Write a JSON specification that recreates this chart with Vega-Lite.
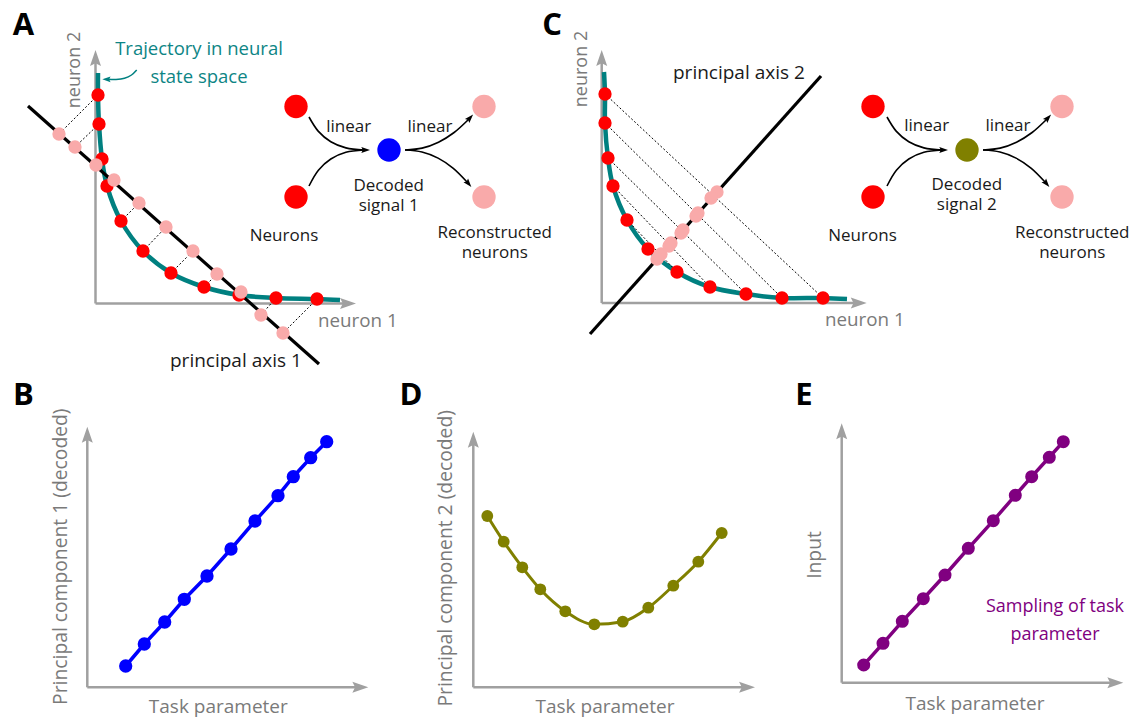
{
  "$schema": "https://vega.github.io/schema/vega-lite/v6.json",
  "width": 1136,
  "height": 720,
  "autosize": {"type": "fit", "contains": "padding"},
  "padding": 0,
  "background": "white",
  "config": {"view": {"stroke": null}, "font": "Open Sans"},
  "datasets": {
    "axes": [
      {"panel": "A", "x": 95.5, "y": 303.5, "x2": 345, "y2": 303.5},
      {"panel": "A", "x": 95.5, "y": 303.5, "x2": 95.5, "y2": 61},
      {"panel": "C", "x": 601.7, "y": 303, "x2": 855.7, "y2": 303},
      {"panel": "C", "x": 601.7, "y": 303, "x2": 601.7, "y2": 61},
      {"panel": "B", "x": 87.3, "y": 687.3, "x2": 357.3, "y2": 687.3},
      {"panel": "B", "x": 87.3, "y": 687.3, "x2": 87.3, "y2": 437.7},
      {"panel": "D", "x": 473.3, "y": 687.3, "x2": 744, "y2": 687.3},
      {"panel": "D", "x": 473.3, "y": 687.3, "x2": 473.3, "y2": 442.7},
      {"panel": "E", "x": 841.7, "y": 682.7, "x2": 1112.3, "y2": 682.7},
      {"panel": "E", "x": 841.7, "y": 682.7, "x2": 841.7, "y2": 434.3}
    ],
    "axisHeads": [
      {"panel": "A", "dir": "up", "x": 95.5, "y": 61},
      {"panel": "C", "dir": "up", "x": 601.7, "y": 61},
      {"panel": "B", "dir": "up", "x": 87.3, "y": 437.7},
      {"panel": "D", "dir": "up", "x": 473.3, "y": 442.7},
      {"panel": "E", "dir": "up", "x": 841.7, "y": 434.3},
      {"panel": "A", "dir": "right", "x": 345, "y": 303.5},
      {"panel": "C", "dir": "right", "x": 855.7, "y": 303},
      {"panel": "B", "dir": "right", "x": 357.3, "y": 687.3},
      {"panel": "D", "dir": "right", "x": 744, "y": 687.3},
      {"panel": "E", "dir": "right", "x": 1112.3, "y": 682.7}
    ],
    "trajectory": [
      {"curve": "A", "i": 0, "x": 98, "y": 73},
      {"curve": "A", "i": 1, "x": 98, "y": 95},
      {"curve": "A", "i": 2, "x": 99, "y": 124},
      {"curve": "A", "i": 3, "x": 102, "y": 159},
      {"curve": "A", "i": 4, "x": 107, "y": 186},
      {"curve": "A", "i": 5, "x": 121, "y": 221},
      {"curve": "A", "i": 6, "x": 143, "y": 251},
      {"curve": "A", "i": 7, "x": 171, "y": 273},
      {"curve": "A", "i": 8, "x": 204, "y": 287},
      {"curve": "A", "i": 9, "x": 239, "y": 295},
      {"curve": "A", "i": 10, "x": 276, "y": 298},
      {"curve": "A", "i": 11, "x": 317, "y": 299},
      {"curve": "A", "i": 12, "x": 340, "y": 300},
      {"curve": "C", "i": 0, "x": 604, "y": 72},
      {"curve": "C", "i": 1, "x": 605, "y": 94},
      {"curve": "C", "i": 2, "x": 605, "y": 123},
      {"curve": "C", "i": 3, "x": 608, "y": 158},
      {"curve": "C", "i": 4, "x": 613, "y": 186},
      {"curve": "C", "i": 5, "x": 627, "y": 220},
      {"curve": "C", "i": 6, "x": 648, "y": 249},
      {"curve": "C", "i": 7, "x": 677, "y": 272},
      {"curve": "C", "i": 8, "x": 710, "y": 287},
      {"curve": "C", "i": 9, "x": 746, "y": 294},
      {"curve": "C", "i": 10, "x": 782, "y": 298},
      {"curve": "C", "i": 11, "x": 823, "y": 298},
      {"curve": "C", "i": 12, "x": 847, "y": 299}
    ],
    "samples": [
      {"panel": "A", "x": 98, "y": 95}, {"panel": "A", "x": 99, "y": 124}, {"panel": "A", "x": 102, "y": 159},
      {"panel": "A", "x": 107, "y": 186}, {"panel": "A", "x": 121, "y": 221}, {"panel": "A", "x": 143, "y": 251},
      {"panel": "A", "x": 171, "y": 273}, {"panel": "A", "x": 204, "y": 287}, {"panel": "A", "x": 239, "y": 295},
      {"panel": "A", "x": 276, "y": 298}, {"panel": "A", "x": 317, "y": 299},
      {"panel": "C", "x": 605, "y": 94}, {"panel": "C", "x": 605, "y": 123}, {"panel": "C", "x": 608, "y": 158},
      {"panel": "C", "x": 613, "y": 186}, {"panel": "C", "x": 627, "y": 220}, {"panel": "C", "x": 648, "y": 249},
      {"panel": "C", "x": 677, "y": 272}, {"panel": "C", "x": 710, "y": 287}, {"panel": "C", "x": 746, "y": 294},
      {"panel": "C", "x": 782, "y": 298}, {"panel": "C", "x": 823, "y": 298}
    ],
    "projections": [
      {"panel": "A", "x": 59, "y": 134}, {"panel": "A", "x": 75, "y": 147}, {"panel": "A", "x": 96, "y": 165},
      {"panel": "A", "x": 114, "y": 180}, {"panel": "A", "x": 139, "y": 203}, {"panel": "A", "x": 166, "y": 227},
      {"panel": "A", "x": 193, "y": 251}, {"panel": "A", "x": 217, "y": 274}, {"panel": "A", "x": 241, "y": 292},
      {"panel": "A", "x": 261, "y": 315}, {"panel": "A", "x": 283, "y": 333},
      {"panel": "C", "x": 717, "y": 192}, {"panel": "C", "x": 711, "y": 198}, {"panel": "C", "x": 698, "y": 213},
      {"panel": "C", "x": 696, "y": 216}, {"panel": "C", "x": 683, "y": 230}, {"panel": "C", "x": 681, "y": 233},
      {"panel": "C", "x": 671, "y": 243}, {"panel": "C", "x": 669, "y": 246}, {"panel": "C", "x": 661, "y": 254},
      {"panel": "C", "x": 659, "y": 256}, {"panel": "C", "x": 657, "y": 259}
    ],
    "dotted": [
      {"panel": "A", "x": 98, "y": 95, "x2": 59, "y2": 134},
      {"panel": "A", "x": 99, "y": 124, "x2": 75, "y2": 147},
      {"panel": "A", "x": 102, "y": 159, "x2": 96, "y2": 165},
      {"panel": "A", "x": 107, "y": 186, "x2": 114, "y2": 180},
      {"panel": "A", "x": 121, "y": 221, "x2": 139, "y2": 203},
      {"panel": "A", "x": 143, "y": 251, "x2": 166, "y2": 227},
      {"panel": "A", "x": 171, "y": 273, "x2": 193, "y2": 251},
      {"panel": "A", "x": 204, "y": 287, "x2": 217, "y2": 274},
      {"panel": "A", "x": 239, "y": 295, "x2": 241, "y2": 292},
      {"panel": "A", "x": 276, "y": 298, "x2": 261, "y2": 315},
      {"panel": "A", "x": 317, "y": 299, "x2": 283, "y2": 333},
      {"panel": "C", "x": 605, "y": 94, "x2": 823, "y2": 298},
      {"panel": "C", "x": 605, "y": 123, "x2": 782, "y2": 298},
      {"panel": "C", "x": 608, "y": 158, "x2": 746, "y2": 294},
      {"panel": "C", "x": 613, "y": 186, "x2": 710, "y2": 287},
      {"panel": "C", "x": 627, "y": 220, "x2": 677, "y2": 272}
    ],
    "principalAxes": [
      {"panel": "A", "x": 28, "y": 106, "x2": 319, "y2": 364},
      {"panel": "C", "x": 590, "y": 334, "x2": 821, "y2": 76}
    ],
    "netArrows": [
      {"id": "a1", "i": 0, "x": 309, "y": 117}, {"id": "a1", "i": 1, "x": 318.4, "y": 131.4}, {"id": "a1", "i": 2, "x": 330.8, "y": 141.8}, {"id": "a1", "i": 3, "x": 345.9, "y": 147.9}, {"id": "a1", "i": 4, "x": 364, "y": 150},
      {"id": "a2", "i": 0, "x": 309, "y": 186}, {"id": "a2", "i": 1, "x": 318.4, "y": 170.2}, {"id": "a2", "i": 2, "x": 330.8, "y": 159}, {"id": "a2", "i": 3, "x": 345.9, "y": 152.3}, {"id": "a2", "i": 4, "x": 364, "y": 150},
      {"id": "a3", "i": 0, "x": 405, "y": 150}, {"id": "a3", "i": 1, "x": 422.1, "y": 148.1}, {"id": "a3", "i": 2, "x": 438.5, "y": 142.2}, {"id": "a3", "i": 3, "x": 454.1, "y": 132.5}, {"id": "a3", "i": 4, "x": 469, "y": 119},
      {"id": "a4", "i": 0, "x": 405, "y": 150}, {"id": "a4", "i": 1, "x": 422, "y": 152}, {"id": "a4", "i": 2, "x": 438.1, "y": 158.1}, {"id": "a4", "i": 3, "x": 453.3, "y": 168.3}, {"id": "a4", "i": 4, "x": 467.5, "y": 182.5},
      {"id": "c1", "i": 0, "x": 887, "y": 117}, {"id": "c1", "i": 1, "x": 896.4, "y": 131.4}, {"id": "c1", "i": 2, "x": 908.8, "y": 141.8}, {"id": "c1", "i": 3, "x": 923.9, "y": 147.9}, {"id": "c1", "i": 4, "x": 942, "y": 150},
      {"id": "c2", "i": 0, "x": 887, "y": 186}, {"id": "c2", "i": 1, "x": 896.4, "y": 170.2}, {"id": "c2", "i": 2, "x": 908.8, "y": 159}, {"id": "c2", "i": 3, "x": 923.9, "y": 152.3}, {"id": "c2", "i": 4, "x": 942, "y": 150},
      {"id": "c3", "i": 0, "x": 983, "y": 150}, {"id": "c3", "i": 1, "x": 1000.1, "y": 148.1}, {"id": "c3", "i": 2, "x": 1016.5, "y": 142.2}, {"id": "c3", "i": 3, "x": 1032.1, "y": 132.5}, {"id": "c3", "i": 4, "x": 1047, "y": 119},
      {"id": "c4", "i": 0, "x": 983, "y": 150}, {"id": "c4", "i": 1, "x": 1000, "y": 152}, {"id": "c4", "i": 2, "x": 1016.1, "y": 158.1}, {"id": "c4", "i": 3, "x": 1031.3, "y": 168.3}, {"id": "c4", "i": 4, "x": 1045.5, "y": 182.5}
    ],
    "netHeads": [
      {"id": "a1", "x": 364, "y": 150, "angle": 90},
      {"id": "a3", "x": 469, "y": 119, "angle": 43},
      {"id": "a4", "x": 467.5, "y": 182.5, "angle": 140},
      {"id": "c1", "x": 942, "y": 150, "angle": 90},
      {"id": "c3", "x": 1047, "y": 119, "angle": 43},
      {"id": "c4", "x": 1045.5, "y": 182.5, "angle": 140}
    ],
    "annotArrow": [
      {"i": 0, "x": 136.7, "y": 70}, {"i": 1, "x": 131.5, "y": 75}, {"i": 2, "x": 124.5, "y": 78.3}, {"i": 3, "x": 116, "y": 79.5}, {"i": 4, "x": 108, "y": 79.3}
    ],
    "annotHead": [{"x": 108, "y": 79.3}],
    "nodes": [
      {"panel": "A", "role": "neuron", "x": 296, "y": 106.5},
      {"panel": "A", "role": "neuron", "x": 296, "y": 197},
      {"panel": "A", "role": "decoded 1", "x": 389, "y": 150},
      {"panel": "A", "role": "reconstructed", "x": 484, "y": 106.5},
      {"panel": "A", "role": "reconstructed", "x": 484, "y": 197},
      {"panel": "C", "role": "neuron", "x": 873, "y": 106.5},
      {"panel": "C", "role": "neuron", "x": 873, "y": 197},
      {"panel": "C", "role": "decoded 2", "x": 967, "y": 150},
      {"panel": "C", "role": "reconstructed", "x": 1062, "y": 106.5},
      {"panel": "C", "role": "reconstructed", "x": 1062, "y": 197}
    ],
    "pc1": [
      {"t": 1, "x": 125.7, "y": 666}, {"t": 2, "x": 144.3, "y": 644}, {"t": 3, "x": 164.7, "y": 622}, {"t": 4, "x": 184.3, "y": 599.3},
      {"t": 5, "x": 207, "y": 576}, {"t": 6, "x": 231, "y": 549}, {"t": 7, "x": 255, "y": 521}, {"t": 8, "x": 278, "y": 495.7},
      {"t": 9, "x": 293.3, "y": 476.7}, {"t": 10, "x": 310.7, "y": 457.7}, {"t": 11, "x": 326.7, "y": 441.7}
    ],
    "pc2": [
      {"t": 1, "x": 487.3, "y": 516}, {"t": 2, "x": 503.7, "y": 541.7}, {"t": 3, "x": 522.3, "y": 567.3}, {"t": 4, "x": 540.3, "y": 589.3},
      {"t": 5, "x": 565.3, "y": 611.3}, {"t": 6, "x": 594.3, "y": 624.3}, {"t": 7, "x": 622.7, "y": 621.7}, {"t": 8, "x": 648.3, "y": 607.7},
      {"t": 9, "x": 673.3, "y": 585.7}, {"t": 10, "x": 698.3, "y": 561.7}, {"t": 11, "x": 721.7, "y": 533}
    ],
    "input": [
      {"t": 1, "x": 863.7, "y": 665}, {"t": 2, "x": 883, "y": 643.3}, {"t": 3, "x": 902.3, "y": 621.3}, {"t": 4, "x": 923.3, "y": 598.7},
      {"t": 5, "x": 945, "y": 575}, {"t": 6, "x": 968.3, "y": 548.3}, {"t": 7, "x": 993.3, "y": 520.7}, {"t": 8, "x": 1015.3, "y": 495.3},
      {"t": 9, "x": 1031.7, "y": 476.7}, {"t": 10, "x": 1049.3, "y": 457.3}, {"t": 11, "x": 1063.3, "y": 441.7}
    ],
    "letters": [
      {"label": "A", "x": 23.5, "y": 35}, {"label": "C", "x": 552, "y": 35},
      {"label": "B", "x": 23.3, "y": 405}, {"label": "D", "x": 411, "y": 405}, {"label": "E", "x": 804, "y": 405}
    ],
    "netLabels": [
      {"label": "linear", "x": 348.7, "y": 131.5}, {"label": "linear", "x": 430, "y": 131.5},
      {"label": "Decoded\nsignal 1", "x": 388.7, "y": 190.5},
      {"label": "Neurons", "x": 284, "y": 241}, {"label": "Reconstructed\nneurons", "x": 494.7, "y": 238},
      {"label": "linear", "x": 926.7, "y": 131}, {"label": "linear", "x": 1008, "y": 131},
      {"label": "Decoded\nsignal 2", "x": 966.8, "y": 190},
      {"label": "Neurons", "x": 862.5, "y": 240.5}, {"label": "Reconstructed\nneurons", "x": 1072.2, "y": 237.5}
    ],
    "axisNames": [
      {"label": "principal axis 1", "x": 170, "y": 367},
      {"label": "principal axis 2", "x": 673, "y": 79}
    ],
    "neuronLabels": [
      {"label": "neuron 1", "x": 318, "y": 327}, {"label": "neuron 1", "x": 825, "y": 326}
    ],
    "verticalLabels": [
      {"label": "neuron 2", "x": 80, "y": 70, "size": "small"},
      {"label": "neuron 2", "x": 586.7, "y": 69, "size": "small"},
      {"label": "Principal component 1 (decoded)", "x": 66.5, "y": 556.7, "size": "large"},
      {"label": "Principal component 2 (decoded)", "x": 451.5, "y": 558.3, "size": "large"},
      {"label": "Input", "x": 821.3, "y": 555, "size": "large"}
    ],
    "taskLabels": [
      {"label": "Task parameter", "x": 218.3, "y": 713}, {"label": "Task parameter", "x": 605, "y": 713}, {"label": "Task parameter", "x": 975, "y": 710}
    ],
    "tealLabels": [
      {"label": "Trajectory in neural\nstate space", "x": 199, "y": 54.5}
    ],
    "purpleLabels": [
      {"label": "Sampling of task\nparameter", "x": 1055, "y": 611.7}
    ]
  },
  "encoding": {
    "x": {"field": "x", "type": "quantitative", "scale": {"domain": [0, 1136], "nice": false, "zero": false}, "axis": null},
    "y": {"field": "y", "type": "quantitative", "scale": {"domain": [0, 720], "reverse": true, "nice": false, "zero": false}, "axis": null}
  },
  "layer": [
    {
      "data": {"name": "axes"},
      "mark": {"type": "rule", "color": "#a0a0a0", "strokeWidth": 2.5},
      "encoding": {"x2": {"field": "x2"}, "y2": {"field": "y2"}}
    },
    {
      "data": {"name": "axisHeads"},
      "transform": [{"filter": "datum.dir === 'up'"}],
      "mark": {"type": "point", "shape": "M0,-1L0.5,0.45L0,0.2L-0.5,0.45Z", "filled": true, "size": 484, "color": "#a0a0a0", "opacity": 1, "angle": 0, "strokeWidth": 0}
    },
    {
      "data": {"name": "axisHeads"},
      "transform": [{"filter": "datum.dir === 'right'"}],
      "mark": {"type": "point", "shape": "M0,-1L0.5,0.45L0,0.2L-0.5,0.45Z", "filled": true, "size": 484, "color": "#a0a0a0", "opacity": 1, "angle": 90, "strokeWidth": 0}
    },
    {
      "data": {"name": "trajectory"},
      "mark": {"type": "line", "interpolate": "catmull-rom", "color": "#008080", "strokeWidth": 4.5},
      "encoding": {"detail": {"field": "curve"}, "order": {"field": "i", "type": "quantitative"}}
    },
    {
      "data": {"name": "dotted"},
      "mark": {"type": "rule", "color": "#000000", "strokeWidth": 1, "strokeDash": [2, 2]},
      "encoding": {"x2": {"field": "x2"}, "y2": {"field": "y2"}}
    },
    {
      "data": {"name": "principalAxes"},
      "mark": {"type": "rule", "color": "#000000", "strokeWidth": 3.2},
      "encoding": {"x2": {"field": "x2"}, "y2": {"field": "y2"}}
    },
    {
      "data": {"name": "samples"},
      "mark": {"type": "point", "shape": "circle", "filled": true, "size": 177, "color": "#ff0000", "opacity": 1, "strokeWidth": 0}
    },
    {
      "data": {"name": "projections"},
      "mark": {"type": "point", "shape": "circle", "filled": true, "size": 177, "color": "#f9aaaa", "opacity": 1, "strokeWidth": 0}
    },
    {
      "data": {"name": "netArrows"},
      "mark": {"type": "line", "interpolate": "catmull-rom", "color": "#000000", "strokeWidth": 1.6},
      "encoding": {"detail": {"field": "id"}, "order": {"field": "i", "type": "quantitative"}}
    },
    {
      "data": {"name": "netHeads"},
      "mark": {"type": "point", "shape": "M0,-1L0.5,0.45L0,0.2L-0.5,0.45Z", "filled": true, "size": 144, "color": "#000000", "opacity": 1, "strokeWidth": 0},
      "encoding": {"angle": {"field": "angle", "type": "quantitative", "scale": null}}
    },
    {
      "data": {"name": "annotArrow"},
      "mark": {"type": "line", "interpolate": "catmull-rom", "color": "#008080", "strokeWidth": 1.5},
      "encoding": {"order": {"field": "i", "type": "quantitative"}}
    },
    {
      "data": {"name": "annotHead"},
      "mark": {"type": "point", "shape": "M0,-1L0.5,0.45L0,0.2L-0.5,0.45Z", "filled": true, "size": 130, "color": "#008080", "opacity": 1, "angle": 270, "strokeWidth": 0}
    },
    {
      "data": {"name": "nodes"},
      "mark": {"type": "point", "shape": "circle", "filled": true, "size": 545, "opacity": 1, "strokeWidth": 0},
      "encoding": {
        "color": {"field": "role", "type": "nominal", "legend": null,
          "scale": {"domain": ["neuron", "decoded 1", "decoded 2", "reconstructed"], "range": ["#ff0000", "#0000ff", "#808000", "#f9aaaa"]}}
      }
    },
    {
      "data": {"name": "pc1"},
      "mark": {"type": "line", "color": "#0000ff", "strokeWidth": 3.5},
      "encoding": {"order": {"field": "t", "type": "quantitative"}}
    },
    {
      "data": {"name": "pc1"},
      "mark": {"type": "point", "shape": "circle", "filled": true, "size": 177, "color": "#0000ff", "opacity": 1, "strokeWidth": 0}
    },
    {
      "data": {"name": "pc2"},
      "mark": {"type": "line", "interpolate": "monotone", "color": "#808000", "strokeWidth": 3},
      "encoding": {"order": {"field": "t", "type": "quantitative"}}
    },
    {
      "data": {"name": "pc2"},
      "mark": {"type": "point", "shape": "circle", "filled": true, "size": 140, "color": "#808000", "opacity": 1, "strokeWidth": 0}
    },
    {
      "data": {"name": "input"},
      "mark": {"type": "line", "color": "#800080", "strokeWidth": 3.5},
      "encoding": {"order": {"field": "t", "type": "quantitative"}}
    },
    {
      "data": {"name": "input"},
      "mark": {"type": "point", "shape": "circle", "filled": true, "size": 170, "color": "#800080", "opacity": 1, "strokeWidth": 0}
    },
    {
      "data": {"name": "letters"},
      "mark": {"type": "text", "font": "Open Sans", "fontWeight": "bold", "fontSize": 31, "align": "center", "baseline": "alphabetic", "color": "#000000"},
      "encoding": {"text": {"field": "label"}}
    },
    {
      "data": {"name": "netLabels"},
      "mark": {"type": "text", "font": "Open Sans", "fontSize": 17, "align": "center", "baseline": "alphabetic", "color": "#1a1a1a", "lineBreak": "\n", "lineHeight": 20},
      "encoding": {"text": {"field": "label"}}
    },
    {
      "data": {"name": "axisNames"},
      "mark": {"type": "text", "font": "Open Sans", "fontSize": 19, "align": "left", "baseline": "alphabetic", "color": "#1a1a1a"},
      "encoding": {"text": {"field": "label"}}
    },
    {
      "data": {"name": "neuronLabels"},
      "mark": {"type": "text", "font": "Open Sans", "fontSize": 18.8, "align": "left", "baseline": "alphabetic", "color": "#7a7a7a"},
      "encoding": {"text": {"field": "label"}}
    },
    {
      "data": {"name": "verticalLabels"},
      "transform": [{"filter": "datum.size === 'small'"}],
      "mark": {"type": "text", "font": "Open Sans", "fontSize": 18, "align": "center", "baseline": "alphabetic", "angle": 270, "color": "#7a7a7a"},
      "encoding": {"text": {"field": "label"}}
    },
    {
      "data": {"name": "verticalLabels"},
      "transform": [{"filter": "datum.size === 'large'"}],
      "mark": {"type": "text", "font": "Open Sans", "fontSize": 19.3, "align": "center", "baseline": "alphabetic", "angle": 270, "color": "#7a7a7a"},
      "encoding": {"text": {"field": "label"}}
    },
    {
      "data": {"name": "taskLabels"},
      "mark": {"type": "text", "font": "Open Sans", "fontSize": 19, "align": "center", "baseline": "alphabetic", "color": "#7a7a7a"},
      "encoding": {"text": {"field": "label"}}
    },
    {
      "data": {"name": "tealLabels"},
      "mark": {"type": "text", "font": "Open Sans", "fontSize": 18.5, "align": "center", "baseline": "alphabetic", "color": "#0d8585", "lineBreak": "\n", "lineHeight": 28.5},
      "encoding": {"text": {"field": "label"}}
    },
    {
      "data": {"name": "purpleLabels"},
      "mark": {"type": "text", "font": "Open Sans", "fontSize": 18, "align": "center", "baseline": "alphabetic", "color": "#800080", "lineBreak": "\n", "lineHeight": 28.3},
      "encoding": {"text": {"field": "label"}}
    }
  ]
}
